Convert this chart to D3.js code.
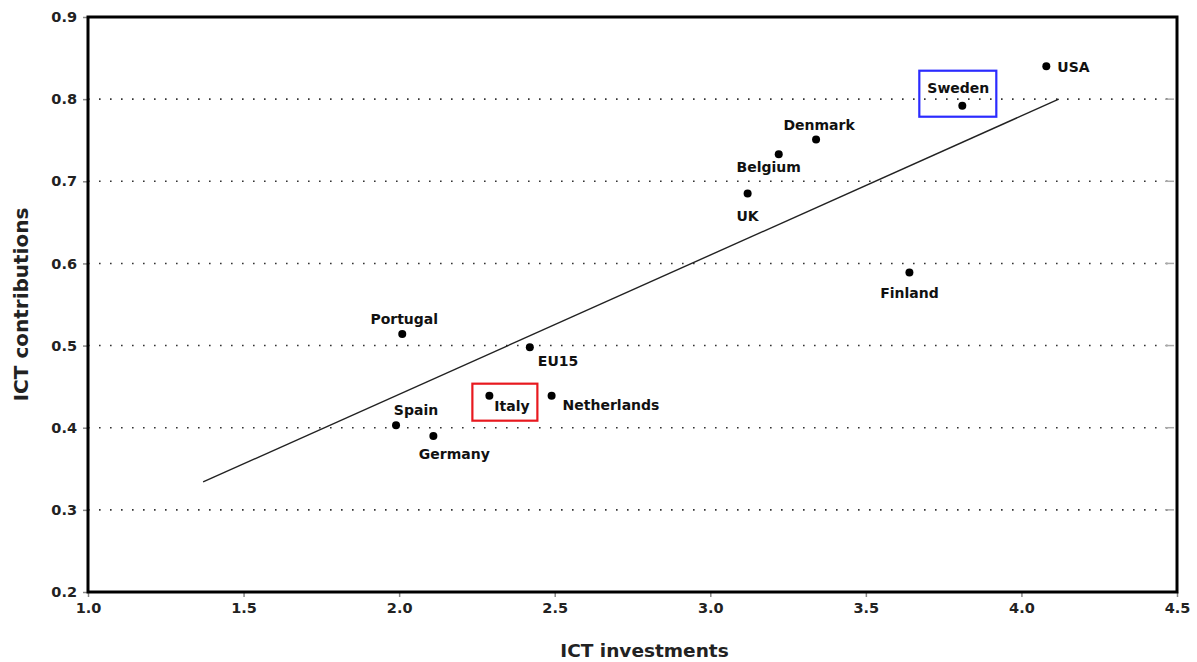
<!DOCTYPE html>
<html>
<head>
<meta charset="utf-8">
<script src="https://cdn.jsdelivr.net/npm/d3@7"></script>
<style>
  body { margin: 0; background: #fff; }
  svg { display: block; font-family: "DejaVu Sans", sans-serif; }
</style>
</head>
<body>
<div id="chart"></div>
<script>
// Data
const countries = ['USA', 'Sweden', 'Denmark', 'Belgium', 'UK', 'Finland',
    'Portugal', 'EU15', 'Italy', 'Netherlands', 'Spain', 'Germany'];
const investments = [4.08, 3.81, 3.34, 3.22, 3.12, 3.64, 2.01, 2.42, 2.29, 2.49, 1.99, 2.11];
const contributions = [0.840, 0.792, 0.751, 0.733, 0.685, 0.589, 0.514, 0.498, 0.439, 0.439, 0.403, 0.390];

// fitted trend line endpoints
const trendX = [1.37, 4.12];
const trendY = [0.334, 0.800];

const xTicks = [1.0, 1.5, 2.0, 2.5, 3.0, 3.5, 4.0, 4.5];
const yTicks = [0.2, 0.3, 0.4, 0.5, 0.6, 0.7, 0.8, 0.9];
const highlighted = { 'Sweden': '#2b2bff', 'Italy': '#e8191f' };

// label placement relative to the dot (layout only)
const labelPos = {
    'USA':        { dx: 11,  dy: 6,   anchor: 'start' },
    'Sweden':     { dx: -4,  dy: -13, anchor: 'middle' },
    'Denmark':    { dx: 3,   dy: -9,  anchor: 'middle' },
    'Belgium':    { dx: -10, dy: 18,  anchor: 'middle' },
    'UK':         { dx: 0,   dy: 27,  anchor: 'middle' },
    'Finland':    { dx: 0,   dy: 26,  anchor: 'middle' },
    'Portugal':   { dx: 2,   dy: -10, anchor: 'middle' },
    'EU15':       { dx: 8,   dy: 19,  anchor: 'start' },
    'Italy':      { dx: 5,   dy: 15,  anchor: 'start' },
    'Netherlands':{ dx: 11,  dy: 14,  anchor: 'start' },
    'Spain':      { dx: 20,  dy: -10, anchor: 'middle' },
    'Germany':    { dx: 21,  dy: 23,  anchor: 'middle' }
};
const boxes = {
    'Sweden': { x0: -43, x1: 34, y0: -35, y1: 11 },
    'Italy':  { x0: -17, x1: 48, y0: -12, y1: 25 }
};

const width = 1197;
const height = 662;
const margin = { top: 17, right: 20, bottom: 70, left: 88 };

const svg = d3.select('#chart')
    .append('svg')
    .attr('width', width)
    .attr('height', height);

const x = d3.scaleLinear()
    .domain([1.0, 4.5])
    .range([margin.left, width - margin.right]);

const y = d3.scaleLinear()
    .domain([0.2, 0.9])
    .range([height - margin.bottom, margin.top]);

// dotted gridlines
svg.append('g')
    .selectAll('line')
    .data(yTicks.filter(d => d > 0.2 && d < 0.9))
    .join('line')
    .attr('x1', x(1.0))
    .attr('x2', x(4.5) - 4)
    .attr('y1', d => y(d))
    .attr('y2', d => y(d))
    .attr('stroke', '#333')
    .attr('stroke-width', 1.6)
    .attr('stroke-dasharray', '1.6,9.4');

// small grey marks on the right end of each gridline
svg.append('g')
    .selectAll('line')
    .data(yTicks.filter(d => d > 0.2 && d < 0.9))
    .join('line')
    .attr('x1', x(4.5) - 12)
    .attr('x2', x(4.5) - 3)
    .attr('y1', d => y(d))
    .attr('y2', d => y(d))
    .attr('stroke', '#aaa')
    .attr('stroke-width', 1.5);

// y axis ticks and labels
const yAxis = svg.append('g')
    .attr('transform', `translate(${x(1.0)},0)`)
    .call(d3.axisLeft(y).tickValues(yTicks).tickFormat(d3.format('.1f')).tickSize(5).tickPadding(6));
yAxis.select('.domain').remove();
yAxis.selectAll('.tick line').attr('stroke', '#888').attr('stroke-width', 1.5);
yAxis.selectAll('.tick text')
    .attr('font-family', '"DejaVu Sans", sans-serif')
    .attr('font-size', 14.5)
    .attr('font-weight', 'bold')
    .attr('fill', '#222');

// x axis ticks and labels
const xAxis = svg.append('g')
    .attr('transform', `translate(0,${y(0.2)})`)
    .call(d3.axisBottom(x).tickValues(xTicks).tickFormat(d3.format('.1f')).tickSize(5).tickPadding(6));
xAxis.select('.domain').remove();
xAxis.selectAll('.tick line').attr('stroke', '#888').attr('stroke-width', 1.5);
xAxis.selectAll('.tick text')
    .attr('font-family', '"DejaVu Sans", sans-serif')
    .attr('font-size', 14.5)
    .attr('font-weight', 'bold')
    .attr('fill', '#222');

// plot frame
svg.append('rect')
    .attr('x', x(1.0))
    .attr('y', y(0.9))
    .attr('width', x(4.5) - x(1.0))
    .attr('height', y(0.2) - y(0.9))
    .attr('fill', 'none')
    .attr('stroke', '#000')
    .attr('stroke-width', 3);

// trend line
svg.append('line')
    .attr('x1', x(trendX[0]))
    .attr('y1', y(trendY[0]))
    .attr('x2', x(trendX[1]))
    .attr('y2', y(trendY[1]))
    .attr('stroke', '#222')
    .attr('stroke-width', 1.4);

const points = countries.map((c, i) => ({ name: c, x: investments[i], y: contributions[i] }));

// highlight boxes
svg.append('g')
    .selectAll('rect')
    .data(points.filter(d => boxes[d.name]))
    .join('rect')
    .attr('x', d => x(d.x) + boxes[d.name].x0)
    .attr('y', d => y(d.y) + boxes[d.name].y0)
    .attr('width', d => boxes[d.name].x1 - boxes[d.name].x0)
    .attr('height', d => boxes[d.name].y1 - boxes[d.name].y0)
    .attr('fill', 'none')
    .attr('stroke', d => highlighted[d.name])
    .attr('stroke-width', 2.2);

// dots
svg.append('g')
    .selectAll('circle')
    .data(points)
    .join('circle')
    .attr('cx', d => x(d.x))
    .attr('cy', d => y(d.y))
    .attr('r', 4)
    .attr('fill', '#000');

// labels
svg.append('g')
    .selectAll('text')
    .data(points)
    .join('text')
    .attr('x', d => x(d.x) + labelPos[d.name].dx)
    .attr('y', d => y(d.y) + labelPos[d.name].dy)
    .attr('text-anchor', d => labelPos[d.name].anchor)
    .attr('font-size', 14)
    .attr('font-weight', 'bold')
    .attr('fill', '#111')
    .text(d => d.name);

// axis titles
svg.append('text')
    .attr('x', (x(1.0) + x(4.5)) / 2 + 12)
    .attr('y', 657)
    .attr('text-anchor', 'middle')
    .attr('font-size', 18.5)
    .attr('font-weight', 'bold')
    .attr('fill', '#222')
    .text('ICT investments');

svg.append('text')
    .attr('transform', `translate(28,${(y(0.2) + y(0.9)) / 2}) rotate(-90)`)
    .attr('text-anchor', 'middle')
    .attr('font-size', 20)
    .attr('font-weight', 'bold')
    .attr('fill', '#222')
    .text('ICT contributions');
</script>
</body>
</html>
